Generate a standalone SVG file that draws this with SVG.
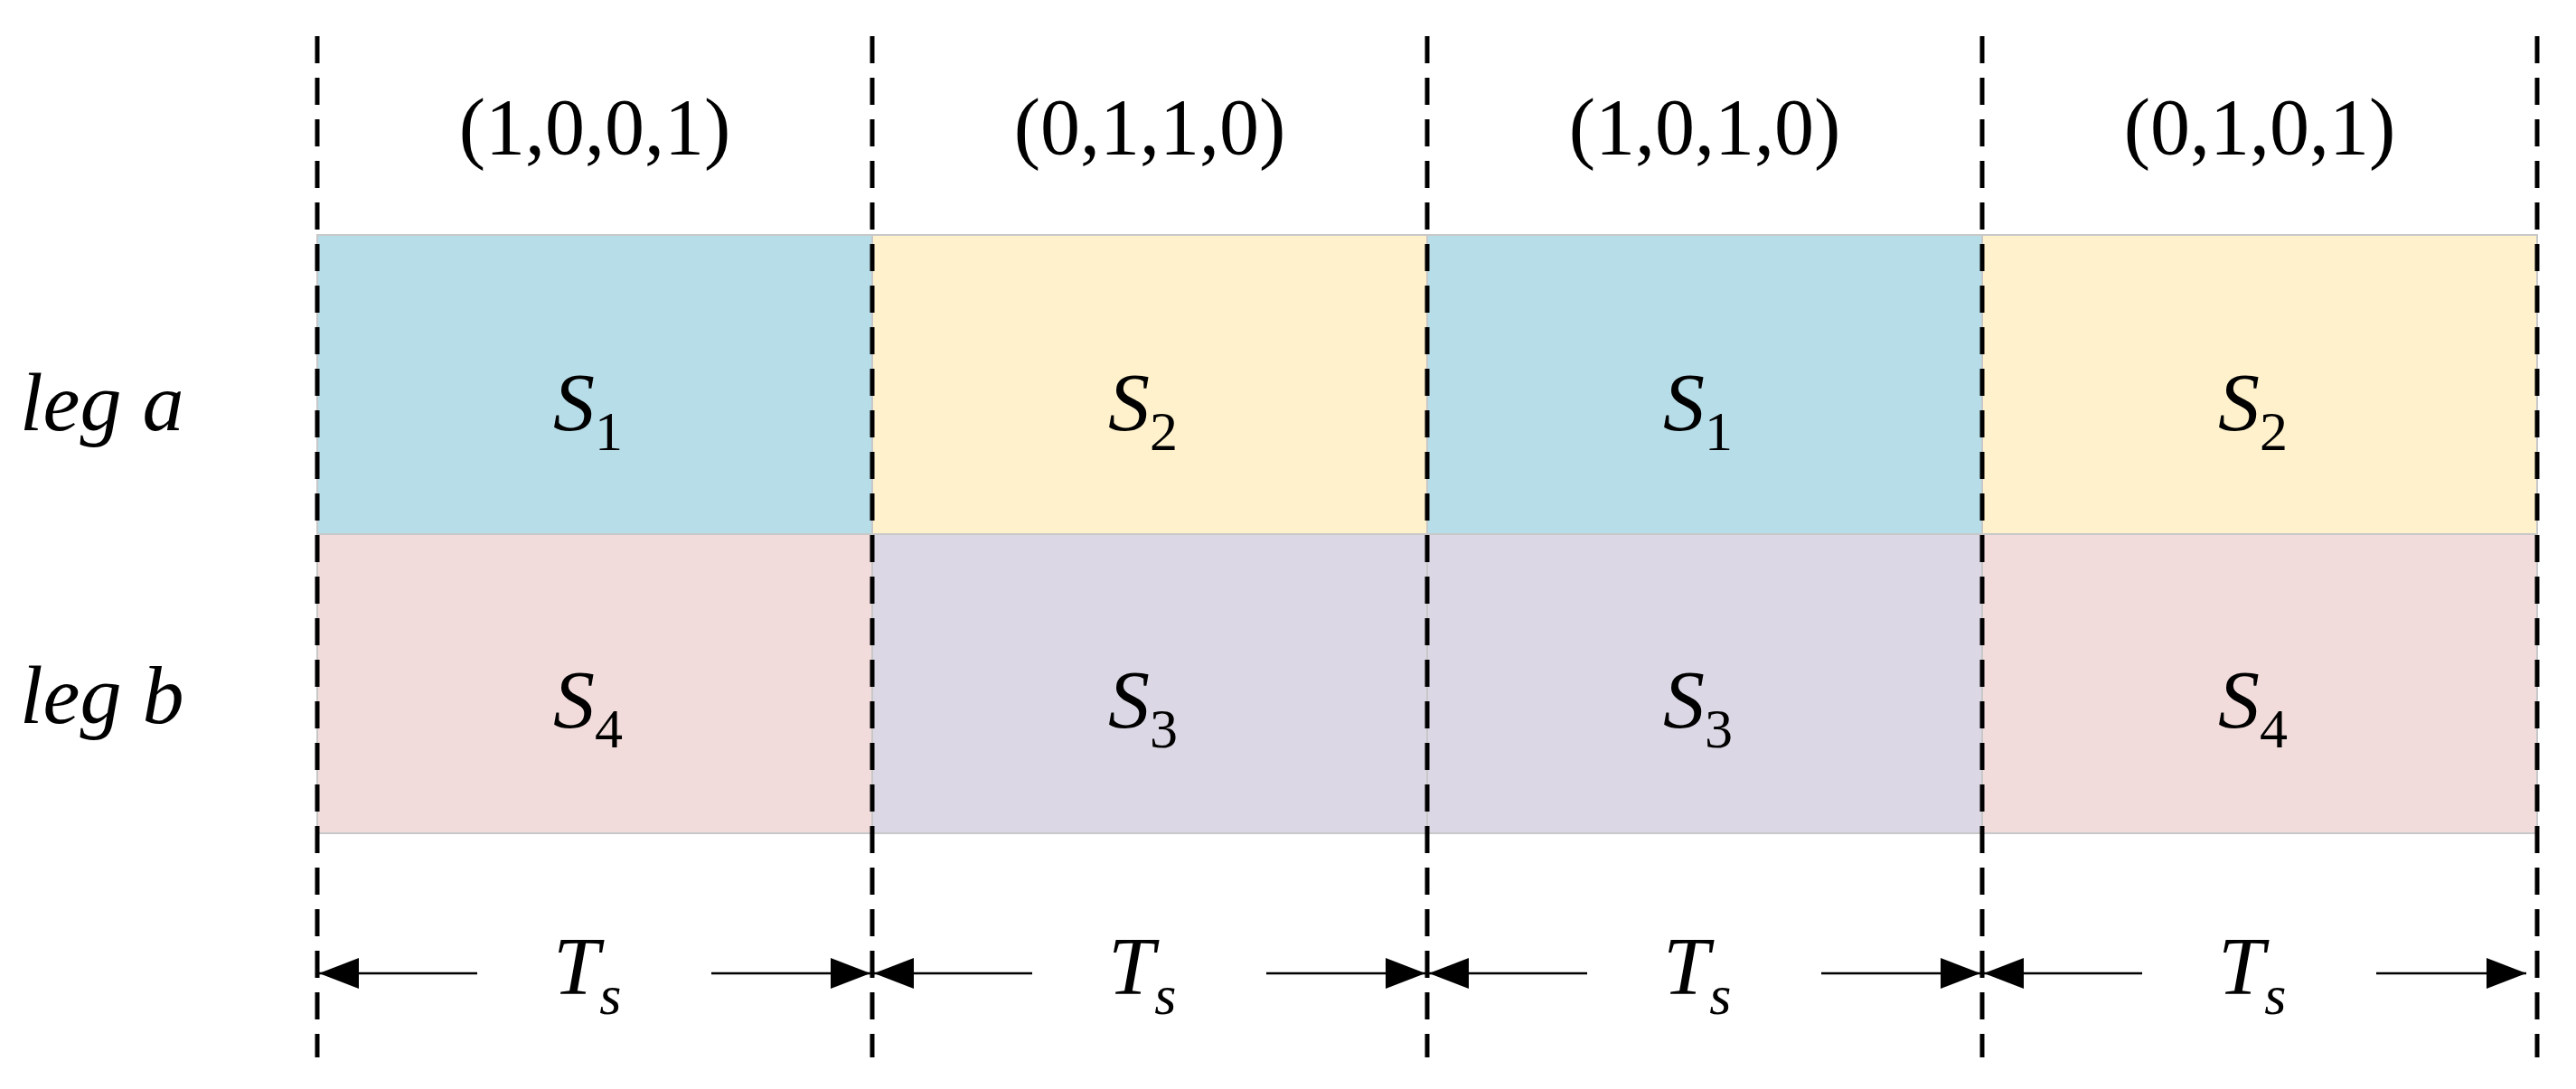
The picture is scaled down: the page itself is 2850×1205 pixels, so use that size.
<svg xmlns="http://www.w3.org/2000/svg" width="2850" height="1205" viewBox="0 0 2850 1205">
<style>
.t{font-family:"Liberation Serif","DejaVu Serif",serif;fill:#000}
.i{font-style:italic}
.cell{stroke:#c8c8c8;stroke-width:2}
.dash{stroke:#000;stroke-width:5;stroke-dasharray:30,16;fill:none}
.arr{stroke:#000;stroke-width:2.5;fill:none}
</style>
<defs>
<marker id="ah" markerWidth="12" markerHeight="8" refX="12" refY="4" orient="auto-start-reverse" markerUnits="userSpaceOnUse" viewBox="0 0 12 8"><path d="M0,0 L12,4 L0,8 z" fill="#000"/></marker>
<marker id="ah2" viewBox="0 0 44 34" refX="44" refY="17" markerWidth="44" markerHeight="34" markerUnits="userSpaceOnUse" orient="auto-start-reverse"><path d="M0,0 L44,17 L0,34 z" fill="#000"/></marker>
</defs>
<g id="labels">
<text class="t i" x="22" y="476" font-size="92">leg a</text>
<text class="t i" x="22" y="800" font-size="92">leg b</text>
</g>
<g id="row-a">
<rect class="cell" x="351" y="260" width="614" height="331" fill="#B7DDE8"/>
<rect class="cell" x="965" y="260" width="614" height="331" fill="#FEF1CC"/>
<rect class="cell" x="1579" y="260" width="614" height="331" fill="#B7DDE8"/>
<rect class="cell" x="2193" y="260" width="614" height="331" fill="#FEF1CC"/>
</g>
<g id="row-b">
<rect class="cell" x="351" y="591" width="614" height="331" fill="#F1DCDB"/>
<rect class="cell" x="965" y="591" width="614" height="331" fill="#DBD7E4"/>
<rect class="cell" x="1579" y="591" width="614" height="331" fill="#DBD7E4"/>
<rect class="cell" x="2193" y="591" width="614" height="331" fill="#F1DCDB"/>
</g>
<g id="states" text-anchor="middle">
<text class="t" x="658" y="170" font-size="88">(1,0,0,1)</text>
<text class="t" x="1272" y="170" font-size="88">(0,1,1,0)</text>
<text class="t" x="1886" y="170" font-size="88">(1,0,1,0)</text>
<text class="t" x="2500" y="170" font-size="88">(0,1,0,1)</text>
</g>
<g id="cell-labels" font-size="92">
<text class="t" x="612" y="476"><tspan class="i">S</tspan><tspan font-size="62" dy="22">1</tspan></text>
<text class="t" x="1226" y="476"><tspan class="i">S</tspan><tspan font-size="62" dy="22">2</tspan></text>
<text class="t" x="1840" y="476"><tspan class="i">S</tspan><tspan font-size="62" dy="22">1</tspan></text>
<text class="t" x="2454" y="476"><tspan class="i">S</tspan><tspan font-size="62" dy="22">2</tspan></text>
<text class="t" x="612" y="805"><tspan class="i">S</tspan><tspan font-size="62" dy="22">4</tspan></text>
<text class="t" x="1226" y="805"><tspan class="i">S</tspan><tspan font-size="62" dy="22">3</tspan></text>
<text class="t" x="1840" y="805"><tspan class="i">S</tspan><tspan font-size="62" dy="22">3</tspan></text>
<text class="t" x="2454" y="805"><tspan class="i">S</tspan><tspan font-size="62" dy="22">4</tspan></text>
</g>
<g id="ts-labels" font-size="92">
<text class="t" x="612" y="1100"><tspan class="i">T</tspan><tspan class="i" font-size="62" dy="22">s</tspan></text>
<text class="t" x="1226" y="1100"><tspan class="i">T</tspan><tspan class="i" font-size="62" dy="22">s</tspan></text>
<text class="t" x="1840" y="1100"><tspan class="i">T</tspan><tspan class="i" font-size="62" dy="22">s</tspan></text>
<text class="t" x="2454" y="1100"><tspan class="i">T</tspan><tspan class="i" font-size="62" dy="22">s</tspan></text>
</g>
<g id="connectors">
<line class="dash" x1="351" y1="40" x2="351" y2="1170"/>
<line class="dash" x1="965" y1="40" x2="965" y2="1170"/>
<line class="dash" x1="1579" y1="40" x2="1579" y2="1170"/>
<line class="dash" x1="2193" y1="40" x2="2193" y2="1170"/>
<line class="dash" x1="2807" y1="40" x2="2807" y2="1170"/>
<line class="arr" x1="528" y1="1077" x2="353" y2="1077" marker-end="url(#ah2)"/>
<line class="arr" x1="787" y1="1077" x2="963" y2="1077" marker-end="url(#ah2)"/>
<line class="arr" x1="1142" y1="1077" x2="967" y2="1077" marker-end="url(#ah2)"/>
<line class="arr" x1="1401" y1="1077" x2="1577" y2="1077" marker-end="url(#ah2)"/>
<line class="arr" x1="1756" y1="1077" x2="1581" y2="1077" marker-end="url(#ah2)"/>
<line class="arr" x1="2015" y1="1077" x2="2191" y2="1077" marker-end="url(#ah2)"/>
<line class="arr" x1="2370" y1="1077" x2="2195" y2="1077" marker-end="url(#ah2)"/>
<line class="arr" x1="2629" y1="1077" x2="2795" y2="1077" marker-end="url(#ah2)"/>
</g>
</svg>
